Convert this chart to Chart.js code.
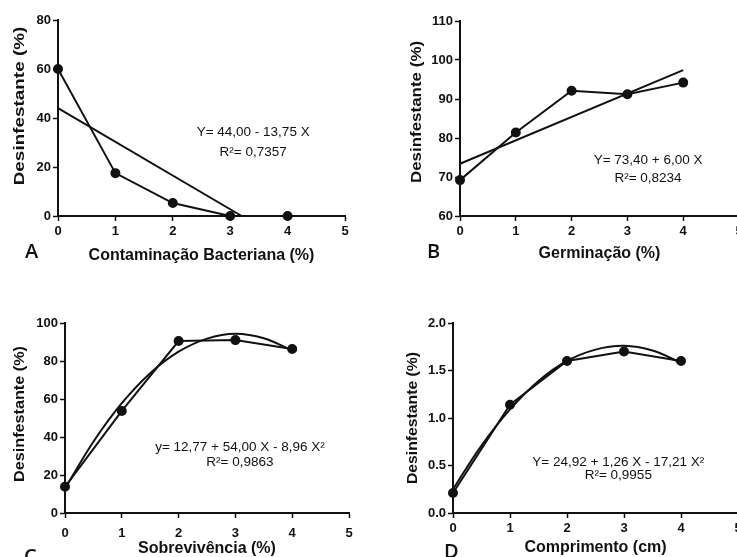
<!DOCTYPE html>
<html>
<head>
<meta charset="utf-8">
<script src="https://cdn.jsdelivr.net/npm/chart.js@4.4.1/dist/chart.umd.min.js"></script>
<style>
  html, body { margin: 0; padding: 0; background: #fff; }
  body { width: 737px; height: 557px; position: relative; overflow: hidden; }
  canvas { position: absolute; }
  .letter { position: absolute; font-family: "Open Sans", sans-serif; font-weight: 600; font-size: 20px; line-height: 20px; color: #111; }
</style>
</head>
<body>
<canvas id="chart-a" width="368" height="278" style="left:0;top:0"></canvas>
<canvas id="chart-b" width="380" height="278" style="left:370px;top:0"></canvas>
<canvas id="chart-c" width="368" height="290" style="left:0;top:280px"></canvas>
<canvas id="chart-d" width="380" height="290" style="left:370px;top:280px"></canvas>
<div class="letter" style="left:25px;top:241px">A</div>
<div class="letter" style="left:427px;top:241px">B</div>
<div class="letter" style="left:24px;top:546px">C</div>
<div class="letter" style="left:444px;top:541px">D</div>

<script>
// doses (x) shared by all four panels
const doses = [0, 1, 2, 3, 4];

const contaminacao = [60, 17.5, 5.3, 0, 0];
const germinacao = [69.2, 81.4, 92.1, 91.2, 94.2];
const sobrevivencia = [13.8, 53.7, 90.5, 91, 86.3];
const comprimento = [0.21, 1.14, 1.6, 1.7, 1.6];

// fitted regression lines
const fitXA = [0, 3.2];
const fitYA = [44, 0];
const fitXB = [0, 4];
const fitYB = [73.4, 97.4];
const fitXCurve = [0, 0.5, 1, 1.5, 2, 2.5, 3, 3.5, 4];
const fitYC = [12.8, 37.5, 57.8, 73.6, 84.9, 91.8, 94.4, 92, 85.5];
const fitYD = [0.25, 0.71, 1.09, 1.39, 1.6, 1.72, 1.76, 1.71, 1.58];

// equation labels
const eqA = ['Y= 44,00 - 13,75 X', 'R²= 0,7357'];
const eqB = ['Y= 73,40 + 6,00 X', 'R²= 0,8234'];
const eqC = ['y= 12,77 + 54,00 X - 8,96 X²', 'R²= 0,9863'];
const eqD = ['Y= 24,92 + 1,26 X - 17,21 X²', 'R²= 0,9955'];

const yTitle = 'Desinfestante (%)';

Chart.defaults.font.family = '"Liberation Sans", Arial, sans-serif';
Chart.defaults.color = '#111';

function toPoints(xs, ys) {
  return xs.map((x, i) => ({ x: x, y: ys[i] }))
}

// equation text at a data position + the (stretched) y title
const equationPlugin = {
  id: 'equation',
  afterDatasetsDraw(chart, args, opts) {
    const ctx = chart.ctx
    const xs = chart.scales.x
    const ys = chart.scales.y
    ctx.save()
    ctx.font = '13.5px "Liberation Sans", Arial, sans-serif'
    ctx.fillStyle = '#111'
    ctx.textAlign = 'center'
    ctx.textBaseline = 'middle'
    opts.lines.forEach((line, i) => {
      ctx.fillText(line, xs.getPixelForValue(opts.x), ys.getPixelForValue(opts.y) + i * opts.gap)
    })
    ctx.restore()

    // y axis title
    ctx.save()
    ctx.font = 'bold 15px "Liberation Sans", Arial, sans-serif'
    ctx.fillStyle = '#111'
    ctx.textAlign = 'center'
    ctx.textBaseline = 'middle'
    ctx.translate(opts.titleX, opts.titleY)
    ctx.rotate(-Math.PI / 2)
    ctx.scale(opts.titleStretch, 1)
    ctx.fillText(yTitle, 0, 0)
    ctx.restore()
  }
}

function makeChart(id, cfg) {
  const ctx = document.getElementById(id).getContext('2d')
  return new Chart(ctx, {
    type: 'line',
    data: {
      datasets: [
        {
          data: toPoints(doses, cfg.values),
          borderColor: '#111',
          backgroundColor: '#111',
          borderWidth: 2,
          pointRadius: 4,
          pointHoverRadius: 4,
          tension: 0,
          clip: false,
        },
        {
          data: toPoints(cfg.fitX, cfg.fitY),
          borderColor: '#111',
          borderWidth: 2,
          pointRadius: 0,
          tension: cfg.curve ? 0.4 : 0,
          clip: false,
        },
      ],
    },
    options: {
      responsive: false,
      animation: false,
      events: [],
      layout: {
        padding: { left: 0, top: cfg.top, right: cfg.right, bottom: 0 },
      },
      scales: {
        x: {
          type: 'linear',
          min: 0,
          max: 5,
          afterFit: (scale) => { scale.height = cfg.xHeight },
          ticks: {
            stepSize: 1,
            padding: cfg.xTickPad,
            font: { size: 13, weight: 'bold' },
            color: '#111',
          },
          grid: {
            drawOnChartArea: false,
            drawTicks: true,
            tickLength: 5,
            tickWidth: 1.5,
            tickColor: '#111',
          },
          border: { color: '#111', width: 2 },
          title: {
            display: true,
            text: cfg.xTitle,
            font: { size: 16, weight: 'bold' },
            color: '#111',
            padding: { top: 0, bottom: cfg.xTitlePad },
          },
        },
        y: {
          min: cfg.yMin,
          max: cfg.yMax,
          afterFit: (scale) => { scale.width = cfg.yWidth },
          ticks: {
            stepSize: cfg.yStep,
            padding: 2,
            font: { size: 13, weight: 'bold' },
            color: '#111',
            callback: cfg.yFormat || ((v) => v),
          },
          grid: {
            drawOnChartArea: false,
            drawTicks: true,
            tickLength: 5,
            tickWidth: 1.5,
            tickColor: '#111',
          },
          border: { color: '#111', width: 2 },
        },
      },
      plugins: {
        legend: { display: false },
        tooltip: { enabled: false },
        equation: {
          lines: cfg.eq, x: cfg.eqX, y: cfg.eqY, gap: cfg.eqGap,
          titleX: cfg.titleX, titleY: cfg.titleY, titleStretch: cfg.titleStretch,
        },
      },
    },
    plugins: [equationPlugin],
  })
}

makeChart('chart-a', {
  values: contaminacao, fitX: fitXA, fitY: fitYA, curve: false,
  yMin: 0, yMax: 80, yStep: 20,
  xTitle: 'Contaminação Bacteriana (%)',
  top: 20, right: 23, yWidth: 58, xHeight: 62, xTickPad: 3, xTitlePad: 13,
  titleX: 20, titleY: 106, titleStretch: 1.26,
  eq: eqA, eqX: 3.4, eqY: 34, eqGap: 20,
})

makeChart('chart-b', {
  values: germinacao, fitX: fitXB, fitY: fitYB, curve: false,
  yMin: 60, yMax: 110, yStep: 10,
  xTitle: 'Germinação (%)',
  top: 21, right: 11, yWidth: 90, xHeight: 62, xTickPad: 3, xTitlePad: 15,
  titleX: 47, titleY: 112, titleStretch: 1.13,
  eq: eqB, eqX: 3.37, eqY: 74.4, eqGap: 18,
})

makeChart('chart-c', {
  values: sobrevivencia, fitX: fitXCurve, fitY: fitYC, curve: true,
  yMin: 0, yMax: 100, yStep: 20,
  xTitle: 'Sobrevivência (%)',
  top: 43, right: 19, yWidth: 65, xHeight: 57, xTickPad: 8, xTitlePad: 12,
  titleX: 20, titleY: 134, titleStretch: 1.08,
  eq: eqC, eqX: 3.08, eqY: 34.7, eqGap: 15,
})

makeChart('chart-d', {
  values: comprimento, fitX: fitXCurve, fitY: fitYD, curve: true,
  yMin: 0, yMax: 2, yStep: 0.5,
  yFormat: (v) => v.toFixed(1),
  xTitle: 'Comprimento (cm)',
  top: 43, right: 12, yWidth: 83, xHeight: 57, xTickPad: 3, xTitlePad: 13,
  titleX: 43, titleY: 138, titleStretch: 1.05,
  eq: eqD, eqX: 2.9, eqY: 0.537, eqGap: 13,
})
</script>
</body>
</html>
